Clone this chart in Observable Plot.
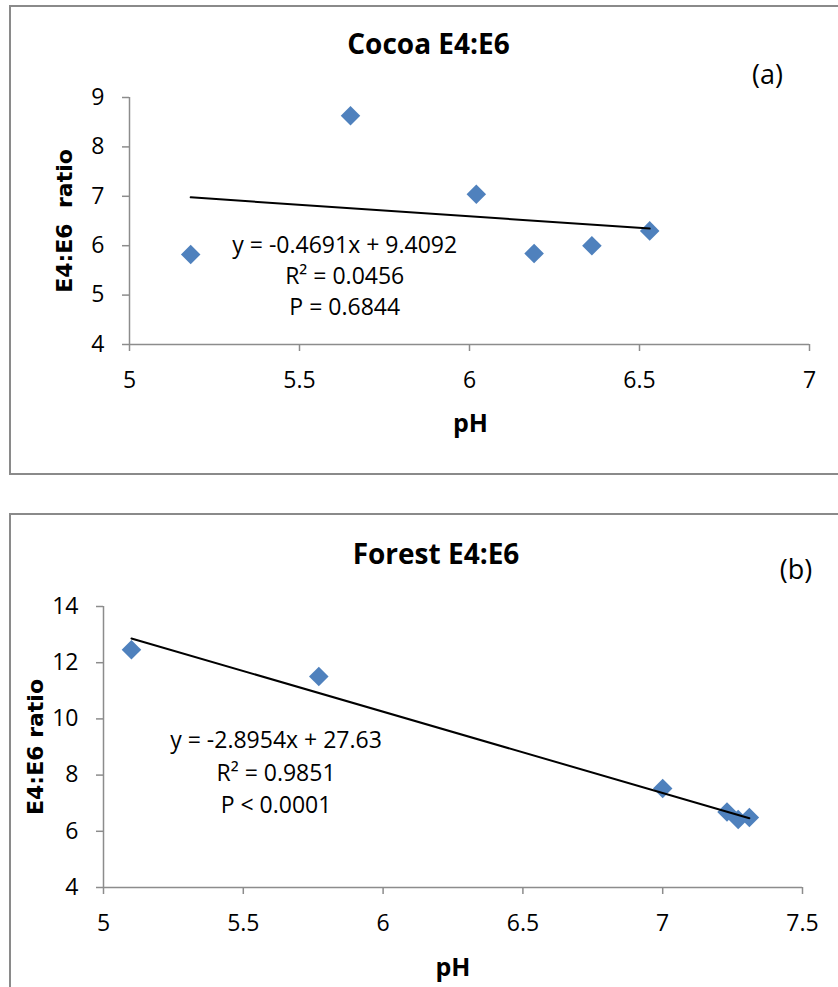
<!DOCTYPE html>
<html>
<head>
<meta charset="utf-8">
<script src="https://cdn.jsdelivr.net/npm/d3@7"></script>
<script src="https://cdn.jsdelivr.net/npm/@observablehq/plot@0.6"></script>
<style>
  html, body { margin: 0; padding: 0; background: #fff; overflow: hidden; }
  #page { position: relative; width: 838px; height: 987px; overflow: hidden; background: #fff; }
  .box { position: absolute; border: 2px solid #8a8a8a; box-sizing: content-box; }
  .chart { position: absolute; left: 0; }
</style>
</head>
<body>
<div id="page">
  <div class="box" style="left:9px; top:5px; width:900px; height:466px;"></div>
  <div class="box" style="left:9px; top:513px; width:900px; height:600px;"></div>
  <div class="chart" id="ca" style="top:0px;"></div>
  <div class="chart" id="cb" style="top:490px;"></div>
</div>
<script>
// ---- Panel (a): Cocoa ----
const A_TITLE = "Cocoa E4:E6";
const A_TAG = "(a)";
const A_YLABEL = "E4:E6  ratio";
const A_PH = [5.18, 5.65, 6.02, 6.19, 6.36, 6.53];
const A_RATIO = [5.82, 8.63, 7.04, 5.84, 6.00, 6.30];
const A_SLOPE = -0.4691, A_INTERCEPT = 9.4092;
const A_EQ = ["y = -0.4691x + 9.4092", "R² = 0.0456", "P = 0.6844"];
const A_XTICKS = [5, 5.5, 6, 6.5, 7];
const A_YTICKS = [4, 5, 6, 7, 8, 9];

// ---- Panel (b): Forest ----
const B_TITLE = "Forest E4:E6";
const B_TAG = "(b)";
const B_YLABEL = "E4:E6 ratio";
const B_PH = [5.10, 5.77, 7.00, 7.23, 7.27, 7.31];
const B_RATIO = [12.46, 11.51, 7.52, 6.69, 6.42, 6.49];
const B_SLOPE = -2.8954, B_INTERCEPT = 27.63;
const B_EQ = ["y = -2.8954x + 27.63", "R² = 0.9851", "P < 0.0001"];
const B_XTICKS = [5, 5.5, 6, 6.5, 7, 7.5];
const B_YTICKS = [4, 6, 8, 10, 12, 14];

const XLABEL = "pH";
const AXIS_GRAY = "#8c8c8c";
const DOT_BLUE = "#4F81BD";
const fmt = d3.format("~g");

function panel(cfg) {
  const pts = cfg.xs.map((x, i) => ({x, y: cfg.ys[i]}));
  const x0 = d3.min(cfg.xs), x1 = d3.max(cfg.xs);
  const trend = [x0, x1].map(x => ({x, y: cfg.slope * x + cfg.intercept}));
  return Plot.plot({
    width: 838,
    height: cfg.height,
    marginLeft: cfg.m[0], marginRight: cfg.m[1], marginTop: cfg.m[2], marginBottom: cfg.m[3],
    x: {domain: [cfg.xTicks[0], cfg.xTicks[cfg.xTicks.length - 1]], label: null},
    y: {domain: [cfg.yTicks[0], cfg.yTicks[cfg.yTicks.length - 1]], label: null},
    style: {background: "none", fontFamily: "'Open Sans', sans-serif", fontSize: "23px", color: "black", overflow: "visible"},
    marks: [
      Plot.axisX(cfg.xTicks, {tickSize: 7, tickPadding: 20, tickFormat: fmt, stroke: AXIS_GRAY, strokeWidth: 1.5, fill: "black", fontSize: 23, label: null}),
      Plot.axisY(cfg.yTicks, {tickSize: 7, tickPadding: 18, tickFormat: fmt, stroke: AXIS_GRAY, strokeWidth: 1.5, fill: "black", fontSize: 23, label: null}),
      Plot.ruleY([cfg.yTicks[0]], {stroke: AXIS_GRAY, strokeWidth: 1.5}),
      Plot.ruleX([cfg.xTicks[0]], {stroke: AXIS_GRAY, strokeWidth: 1.5}),
      Plot.dot(pts, {x: "x", y: "y", symbol: "diamond2", r: 8.8, fill: DOT_BLUE, stroke: "none"}),
      Plot.line(trend, {x: "x", y: "y", stroke: "black", strokeWidth: 2}),
      Plot.text([cfg.eq.join("\n")], {x: () => cfg.eqX, y: () => cfg.eqY, text: d => d, lineHeight: cfg.eqLH, fontSize: 23, fill: "black"}),
      Plot.text([cfg.title], {frameAnchor: "top", lineAnchor: "middle", textAnchor: "middle", text: d => d, dx: cfg.titleD[0], dy: cfg.titleD[1], fontSize: 28, fontWeight: "bold", fill: "black"}),
      Plot.text([cfg.tag], {frameAnchor: "top", lineAnchor: "middle", textAnchor: "middle", text: d => d, dx: cfg.tagD[0], dy: cfg.tagD[1], fontSize: 27, fill: "black"}),
      Plot.text([XLABEL], {frameAnchor: "bottom", lineAnchor: "middle", textAnchor: "middle", text: d => d, dx: cfg.xlabD[0], dy: cfg.xlabD[1], fontSize: 25, fontWeight: "bold", fill: "black"}),
      Plot.text([cfg.ylabel], {frameAnchor: "left", lineAnchor: "middle", textAnchor: "middle", text: d => d, rotate: -90, dx: cfg.ylabD[0], dy: cfg.ylabD[1], fontSize: 22, fontWeight: "bold", fontFamily: "'DejaVu Sans', sans-serif", fill: "black"})
    ]
  });
}

document.getElementById("ca").append(panel({
  height: 490, m: [129, 29, 97, 146],
  xs: A_PH, ys: A_RATIO, slope: A_SLOPE, intercept: A_INTERCEPT,
  xTicks: A_XTICKS, yTicks: A_YTICKS,
  eq: A_EQ, eqX: 5.633, eqY: 5.417, eqLH: 1.35,
  title: A_TITLE, titleD: [-41, -52],
  tag: A_TAG, tagD: [298, -22],
  xlabD: [1, 79],
  ylabel: A_YLABEL, ylabD: [-65, 0]
}));

document.getElementById("cb").append(panel({
  height: 497, m: [103, 36, 116, 100],
  xs: B_PH, ys: B_RATIO, slope: B_SLOPE, intercept: B_INTERCEPT,
  xTicks: B_XTICKS, yTicks: B_YTICKS,
  eq: B_EQ, eqX: 5.617, eqY: 8.17, eqLH: 1.4,
  title: B_TITLE, titleD: [-17, -51.5],
  tag: B_TAG, tagD: [343, -36],
  xlabD: [0, 80],
  ylabel: B_YLABEL, ylabD: [-68, 0]
}));
</script>
</body>
</html>
